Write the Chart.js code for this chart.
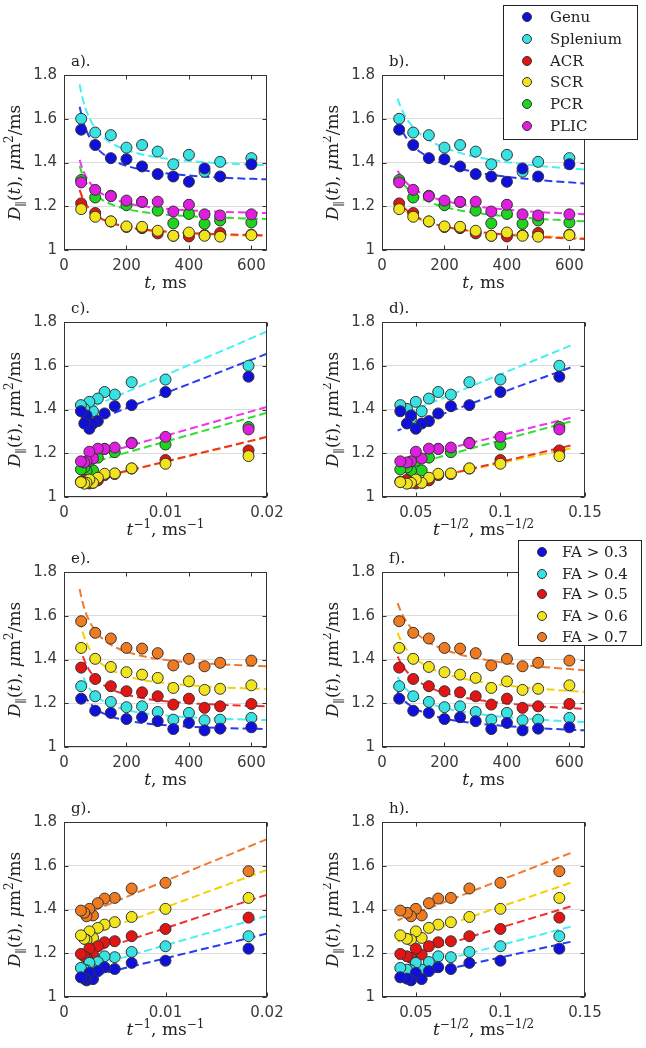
<!DOCTYPE html>
<html>
<head>
<meta charset="utf-8">
<script src="https://cdn.jsdelivr.net/npm/chart.js@4"></script>
<style>
  body { margin: 0; background: #fff; }
  #wrap { position: relative; width: 646px; height: 1048px; overflow: hidden; }
  #wrap canvas { position: absolute; }
</style>
</head>
<body>
<div id="wrap"></div>
<script>
// diffusion times (ms) of the measured points
const tVals = [55, 100, 150, 200, 250, 300, 350, 400, 450, 500, 600];

// D_par(t) per white matter region, um^2/ms
const regionNames = ["Genu", "Splenium", "ACR", "SCR", "PCR", "PLIC"];
const genu     = [1.55, 1.48, 1.42, 1.415, 1.382, 1.347, 1.336, 1.312, 1.373, 1.336, 1.392];
const splenium = [1.60, 1.537, 1.525, 1.468, 1.48, 1.45, 1.392, 1.435, 1.358, 1.403, 1.42];
const acr      = [1.213, 1.169, 1.13, 1.105, 1.10, 1.076, 1.065, 1.062, 1.068, 1.078, 1.07];
const scr      = [1.187, 1.152, 1.131, 1.108, 1.106, 1.088, 1.065, 1.08, 1.065, 1.061, 1.068];
const pcr      = [1.32, 1.24, 1.248, 1.205, 1.22, 1.18, 1.122, 1.165, 1.12, 1.135, 1.126];
const plic     = [1.309, 1.275, 1.246, 1.226, 1.22, 1.221, 1.176, 1.207, 1.163, 1.158, 1.163];

// D_par(t) per FA threshold
const faNames = ["FA > 0.3", "FA > 0.4", "FA > 0.5", "FA > 0.6", "FA > 0.7"];
const fa03 = [1.221, 1.166, 1.156, 1.128, 1.136, 1.118, 1.082, 1.11, 1.076, 1.084, 1.09];
const fa04 = [1.278, 1.232, 1.206, 1.182, 1.186, 1.16, 1.125, 1.156, 1.122, 1.125, 1.133];
const fa05 = [1.363, 1.311, 1.278, 1.255, 1.25, 1.232, 1.194, 1.221, 1.179, 1.186, 1.197];
const fa06 = [1.453, 1.403, 1.366, 1.342, 1.331, 1.316, 1.27, 1.30, 1.261, 1.266, 1.282];
const fa07 = [1.575, 1.522, 1.496, 1.453, 1.45, 1.429, 1.373, 1.403, 1.369, 1.385, 1.395];

// dashed fit curves at these times
const fitT = [50, 60, 75, 100, 130, 175, 250, 350, 500, 650];

// fits linear in 1/t (panels a, c)
const fitInvTGenu     = [1.655, 1.595, 1.535, 1.475, 1.434, 1.398, 1.367, 1.347, 1.331, 1.323];
const fitInvTSplenium = [1.757, 1.690, 1.624, 1.557, 1.511, 1.471, 1.437, 1.414, 1.397, 1.388];
const fitInvTAcr      = [1.275, 1.237, 1.200, 1.162, 1.136, 1.114, 1.095, 1.082, 1.072, 1.067];
const fitInvTScr      = [1.274, 1.236, 1.198, 1.160, 1.134, 1.112, 1.092, 1.079, 1.069, 1.064];
const fitInvTPcr      = [1.385, 1.341, 1.297, 1.253, 1.223, 1.197, 1.174, 1.159, 1.148, 1.142];
const fitInvTPlic     = [1.412, 1.368, 1.324, 1.280, 1.250, 1.224, 1.201, 1.186, 1.175, 1.169];

// fits linear in 1/sqrt(t) (panels b, d)
const fitSqGenu     = [1.592, 1.557, 1.519, 1.475, 1.441, 1.407, 1.372, 1.344, 1.320, 1.304];
const fitSqSplenium = [1.692, 1.653, 1.610, 1.561, 1.522, 1.483, 1.444, 1.413, 1.385, 1.368];
const fitSqAcr      = [1.235, 1.213, 1.188, 1.160, 1.138, 1.116, 1.094, 1.076, 1.060, 1.050];
const fitSqScr      = [1.222, 1.202, 1.180, 1.154, 1.134, 1.114, 1.094, 1.078, 1.064, 1.055];
const fitSqPcr      = [1.345, 1.319, 1.291, 1.258, 1.233, 1.207, 1.181, 1.161, 1.143, 1.131];
const fitSqPlic     = [1.362, 1.338, 1.312, 1.281, 1.257, 1.234, 1.210, 1.191, 1.174, 1.163];

// FA fits, 1/t (panels e, g)
const fitInvTFa03 = [1.290, 1.252, 1.215, 1.177, 1.151, 1.129, 1.110, 1.097, 1.087, 1.082];
const fitInvTFa04 = [1.371, 1.326, 1.281, 1.237, 1.206, 1.179, 1.156, 1.141, 1.129, 1.123];
const fitInvTFa05 = [1.468, 1.417, 1.366, 1.315, 1.280, 1.250, 1.224, 1.206, 1.193, 1.186];
const fitInvTFa06 = [1.581, 1.524, 1.467, 1.410, 1.370, 1.337, 1.307, 1.288, 1.273, 1.265];
const fitInvTFa07 = [1.722, 1.658, 1.595, 1.531, 1.487, 1.449, 1.416, 1.394, 1.378, 1.369];

// FA fits, 1/sqrt(t) (panels f, h)
const fitSqFa03 = [1.252, 1.231, 1.207, 1.181, 1.160, 1.139, 1.117, 1.101, 1.086, 1.076];
const fitSqFa04 = [1.321, 1.296, 1.268, 1.237, 1.212, 1.188, 1.163, 1.143, 1.125, 1.114];
const fitSqFa05 = [1.414, 1.385, 1.353, 1.317, 1.288, 1.259, 1.230, 1.207, 1.187, 1.174];
const fitSqFa06 = [1.522, 1.489, 1.453, 1.413, 1.380, 1.348, 1.316, 1.290, 1.267, 1.252];
const fitSqFa07 = [1.658, 1.621, 1.580, 1.534, 1.497, 1.460, 1.423, 1.394, 1.368, 1.351];

// tick labels
const yTicks = [1, 1.2, 1.4, 1.6, 1.8];
const tTicks = [0, 200, 400, 600];
const invTicks = [0, 0.01, 0.02];
const sqTicks = [0.05, 0.1, 0.15];

// colours (marker fill, dashed line)
const C = {
  blue:    ["#1010dc", "#2a3cf2"],
  cyan:    ["#38e2e2", "#44f0f0"],
  red:     ["#e21414", "#f03030"],
  yellow:  ["#f2e41c", "#f2d200"],
  green:   ["#1ed41e", "#30e030"],
  magenta: ["#e01ee0", "#f034f0"],
  orange:  ["#ee7a22", "#f07a30"],
};

const regions = [
  { name: regionNames[0], vals: genu,     fitA: fitInvTGenu,     fitB: fitSqGenu,     col: C.blue,    ord: 0 },
  { name: regionNames[1], vals: splenium, fitA: fitInvTSplenium, fitB: fitSqSplenium, col: C.cyan,    ord: 1 },
  { name: regionNames[2], vals: acr,      fitA: fitInvTAcr,      fitB: fitSqAcr,      col: C.red,     ord: 3 },
  { name: regionNames[3], vals: scr,      fitA: fitInvTScr,      fitB: fitSqScr,      col: C.yellow,  ord: 2 },
  { name: regionNames[4], vals: pcr,      fitA: fitInvTPcr,      fitB: fitSqPcr,      col: C.green,   ord: 3 },
  { name: regionNames[5], vals: plic,     fitA: fitInvTPlic,     fitB: fitSqPlic,     col: C.magenta, ord: 2 },
];
const faSets = [
  { name: faNames[0], vals: fa03, fitA: fitInvTFa03, fitB: fitSqFa03, col: C.blue,   ord: 0 },
  { name: faNames[1], vals: fa04, fitA: fitInvTFa04, fitB: fitSqFa04, col: C.cyan,   ord: 0 },
  { name: faNames[2], vals: fa05, fitA: fitInvTFa05, fitB: fitSqFa05, col: C.red,    ord: 0 },
  { name: faNames[3], vals: fa06, fitA: fitInvTFa06, fitB: fitSqFa06, col: C.yellow, ord: 0 },
  { name: faNames[4], vals: fa07, fitA: fitInvTFa07, fitB: fitSqFa07, col: C.orange, ord: 0 },
];

const SERIF = '"DejaVu Serif", serif';
const SANS = '"DejaVu Sans", sans-serif';

const xModes = {
  t:   { conv: t => t,                min: 0,    max: 650,  ticks: tTicks,
         title: [{ t: "t", it: true }, { t: ", ms" }] },
  inv: { conv: t => 1 / t,            min: 0,    max: 0.02, ticks: invTicks,
         title: [{ t: "t", it: true }, { t: "\u22121", sup: true }, { t: ", ms" }, { t: "\u22121", sup: true }] },
  sq:  { conv: t => 1 / Math.sqrt(t), min: 0.03, max: 0.15, ticks: sqTicks,
         title: [{ t: "t", it: true }, { t: "\u22121/2", sup: true }, { t: ", ms" }, { t: "\u22121/2", sup: true }] },
};
const yTitle = [{ t: "D", it: true }, { t: "\u2225", sub: true }, { t: "(" }, { t: "t", it: true },
                { t: "), " }, { t: "\u03bc", it: true }, { t: "m" }, { t: "2", sup: true }, { t: "/ms" }];

// panel layout
const plotTops = [75, 322, 572, 822];
const plotH = 175;
const colLeft = [0, 323];
const plotLeft = [64, 59];    // canvas-local
const plotRight = [267, 262];
const W = 323;

const legend1 = { x: 180, y: 5, w: 134, h: 134, mx: 204, tx: 227, rows: [17, 39, 61, 82, 104, 126], items: regions };
const legend2 = { x: 195, y: 12, w: 123, h: 105, mx: 219, tx: 239, rows: [24, 46, 66, 88, 109], items: faSets };

const panels = [
  { letter: "a).", row: 0, col: 0, mode: "t",   sets: regions, fit: "fitA" },
  { letter: "b).", row: 0, col: 1, mode: "t",   sets: regions, fit: "fitB", legend: legend1 },
  { letter: "c).", row: 1, col: 0, mode: "inv", sets: regions, fit: "fitA" },
  { letter: "d).", row: 1, col: 1, mode: "sq",  sets: regions, fit: "fitB" },
  { letter: "e).", row: 2, col: 0, mode: "t",   sets: faSets,  fit: "fitA" },
  { letter: "f).", row: 2, col: 1, mode: "t",   sets: faSets,  fit: "fitB", legend: legend2 },
  { letter: "g).", row: 3, col: 0, mode: "inv", sets: faSets,  fit: "fitA" },
  { letter: "h).", row: 3, col: 1, mode: "sq",  sets: faSets,  fit: "fitB" },
];

function richText(ctx, segs, size) {
  const fontOf = s => (s.it ? "italic " : "") + ((s.sup || s.sub) ? Math.round(size * 0.7) : size) + "px " + SERIF;
  let total = 0;
  segs.forEach(s => { ctx.font = fontOf(s); s.w = ctx.measureText(s.t).width; total += s.w; });
  let x = -total / 2;
  segs.forEach(s => {
    ctx.font = fontOf(s);
    const dy = s.sup ? -size * 0.42 : s.sub ? size * 0.28 : 0;
    ctx.fillText(s.t, x, dy);
    x += s.w;
  });
}

const decor = {
  id: "decor",
  afterDatasetsDraw(chart, args, opts) {
    const { ctx, chartArea: a, scales } = chart;
    ctx.save();
    ctx.strokeStyle = "#333";
    ctx.lineWidth = 1;
    const L = Math.round(a.left) + 0.5, R = Math.round(a.right) - 0.5;
    const T = Math.round(a.top) + 0.5, B = Math.round(a.bottom) - 0.5;
    ctx.strokeRect(L, T, R - L, B - T);
    ctx.beginPath();
    scales.x.ticks.forEach(tk => {
      const px = Math.round(scales.x.getPixelForValue(tk.value)) + 0.5;
      ctx.moveTo(px, B); ctx.lineTo(px, B - 4);
      ctx.moveTo(px, T); ctx.lineTo(px, T + 4);
    });
    scales.y.ticks.forEach(tk => {
      const py = Math.round(scales.y.getPixelForValue(tk.value)) + 0.5;
      ctx.moveTo(L, py); ctx.lineTo(L + 4, py);
      ctx.moveTo(R, py); ctx.lineTo(R - 4, py);
    });
    ctx.stroke();
    ctx.restore();
  },
  afterDraw(chart, args, opts) {
    const { ctx, chartArea: a } = chart;
    ctx.save();
    ctx.fillStyle = "#222";
    ctx.textBaseline = "alphabetic";
    // panel letter
    ctx.font = "15px " + SERIF;
    ctx.textAlign = "left";
    ctx.fillText(opts.letter, a.left + 7, a.top - 9);
    // x title
    ctx.save();
    ctx.translate((a.left + a.right) / 2, a.bottom + 38);
    richText(ctx, opts.xTitle.map(s => ({ ...s })), 17);
    ctx.restore();
    // y title
    ctx.save();
    ctx.translate(a.left - 44, (a.top + a.bottom) / 2);
    ctx.rotate(-Math.PI / 2);
    richText(ctx, yTitle.map(s => ({ ...s })), 17);
    ctx.restore();
    // legend box
    const lg = opts.legend;
    if (lg) {
      ctx.fillStyle = "#fff";
      ctx.fillRect(lg.x, lg.y, lg.w, lg.h);
      ctx.strokeStyle = "#222";
      ctx.lineWidth = 1;
      ctx.strokeRect(lg.x + 0.5, lg.y + 0.5, lg.w, lg.h);
      lg.items.forEach((it, i) => {
        const y = lg.rows[i];
        ctx.beginPath();
        ctx.arc(lg.mx, y, 4.5, 0, Math.PI * 2);
        ctx.fillStyle = it.col[0];
        ctx.fill();
        ctx.strokeStyle = "#333";
        ctx.stroke();
        ctx.fillStyle = "#222";
        ctx.font = "15px " + SERIF;
        ctx.textBaseline = "middle";
        ctx.fillText(it.name, lg.tx, y + 1);
      });
    }
    ctx.restore();
  },
};

const wrap = document.getElementById("wrap");
panels.forEach(p => {
  const xm = xModes[p.mode];
  const padTop = p.row === 0 ? plotTops[0] : 44;
  const top = plotTops[p.row] - padTop;
  const H = padTop + plotH + 50;
  const cv = document.createElement("canvas");
  cv.width = W; cv.height = H;
  cv.style.left = colLeft[p.col] + "px";
  cv.style.top = top + "px";
  wrap.appendChild(cv);

  const datasets = [];
  p.sets.forEach(s => {
    datasets.push({
      type: "scatter",
      label: s.name,
      data: tVals.map((t, i) => ({ x: xm.conv(t), y: s.vals[i] })),
      backgroundColor: s.col[0],
      borderColor: "#333",
      borderWidth: 1,
      pointRadius: 5.5,
      order: s.ord,
    });
  });
  p.sets.forEach(s => {
    datasets.push({
      type: "line",
      label: s.name + " fit",
      data: fitT.map((t, i) => ({ x: xm.conv(t), y: s[p.fit][i] })),
      borderColor: s.col[1],
      borderWidth: 2,
      borderDash: [8, 4],
      pointRadius: 0,
      fill: false,
      cubicInterpolationMode: p.mode === "t" ? "monotone" : "default",
      tension: 0,
      order: 10,
    });
  });

  const tickFmt = v => String(Number(Number(v).toFixed(4)));
  new Chart(cv, {
    data: { datasets },
    options: {
      responsive: false,
      animation: false,
      events: [],
      layout: { padding: { top: padTop, right: W - plotRight[p.col], left: 0, bottom: 0 } },
      plugins: {
        legend: { display: false },
        tooltip: { enabled: false },
        decor: { letter: p.letter, xTitle: xm.title, legend: p.legend },
      },
      scales: {
        x: {
          type: "linear",
          min: xm.min, max: xm.max,
          afterBuildTicks: sc => { sc.ticks = xm.ticks.map(v => ({ value: v })); },
          afterFit: sc => { sc.height = 50; },
          grid: { display: false, drawTicks: false },
          border: { display: false },
          ticks: { color: "#3a3a3a", font: { family: SANS, size: 15 }, padding: 7,
                   autoSkip: false, maxRotation: 0, callback: tickFmt },
        },
        y: {
          type: "linear",
          min: 1, max: 1.8,
          afterBuildTicks: sc => { sc.ticks = yTicks.map(v => ({ value: v })); },
          afterFit: sc => { sc.width = plotLeft[p.col]; },
          grid: { color: "#dcdcdc", drawTicks: false },
          border: { display: false },
          ticks: { color: "#3a3a3a", font: { family: SANS, size: 15 }, padding: 7, callback: tickFmt },
        },
      },
    },
    plugins: [decor],
  });
});
</script>
</body>
</html>
